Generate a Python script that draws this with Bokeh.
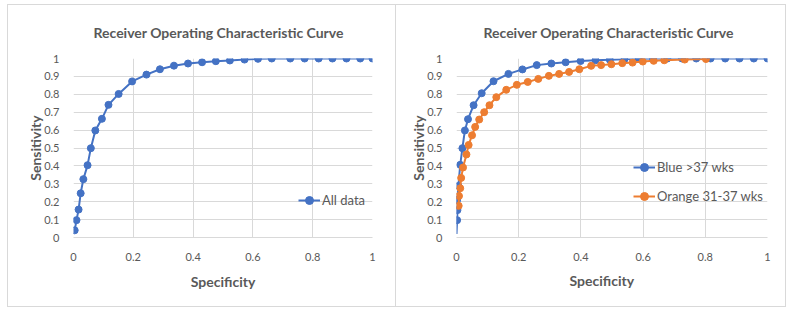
from bokeh.plotting import figure
from bokeh.layouts import row
from bokeh.models import FixedTicker, CustomJSTickFormatter, Legend, LegendItem, Range1d, Title
from bokeh.embed import file_html
from bokeh.resources import INLINE

# ---- data ----
all_spec = [0.004, 0.01, 0.017, 0.024, 0.033, 0.047, 0.058, 0.073, 0.095, 0.117, 0.151, 0.196,
            0.244, 0.289, 0.336, 0.383, 0.43, 0.476, 0.523, 0.572, 0.617, 0.663, 0.725, 0.773,
            0.82, 0.866, 0.913, 0.959, 1.0]
all_sens = [0.04, 0.097, 0.156, 0.247, 0.326, 0.404, 0.499, 0.598, 0.663, 0.741, 0.802, 0.872,
            0.91, 0.94, 0.96, 0.972, 0.979, 0.985, 0.989, 0.994, 0.998, 1.0, 1.0, 1.0,
            1.0, 1.0, 1.0, 1.0, 1.0]

blue_spec = [0.0, 0.002, 0.003, 0.002, 0.006, 0.012, 0.019, 0.027, 0.037, 0.055, 0.081, 0.119,
             0.167, 0.212, 0.258, 0.305, 0.351, 0.399, 0.447, 0.493, 0.540, 0.586, 0.632, 0.678,
             0.725, 0.771, 0.817, 0.864, 0.910, 0.956, 1.0]
blue_sens = [0.02, 0.097, 0.153, 0.21, 0.288, 0.406, 0.499, 0.598, 0.661, 0.739, 0.806, 0.873,
             0.914, 0.939, 0.963, 0.972, 0.979, 0.986, 0.990, 0.993, 0.996, 0.998, 1.0, 1.0,
             1.0, 1.0, 1.0, 1.0, 1.0, 1.0, 1.0]

orange_spec = [0.007, 0.008, 0.012, 0.015, 0.021, 0.032, 0.039, 0.050, 0.060, 0.073, 0.089, 0.106,
               0.128, 0.160, 0.194, 0.229, 0.263, 0.297, 0.330, 0.362, 0.395, 0.433, 0.465, 0.498,
               0.533, 0.566, 0.599, 0.634, 0.668, 0.734, 0.802]
orange_sens = [0.177, 0.232, 0.275, 0.333, 0.391, 0.464, 0.517, 0.571, 0.618, 0.659, 0.700, 0.739,
               0.784, 0.825, 0.853, 0.869, 0.886, 0.903, 0.914, 0.925, 0.940, 0.959, 0.963, 0.968,
               0.974, 0.977, 0.983, 0.987, 0.990, 0.994, 0.997]

x_ticks = [0, 0.2, 0.4, 0.6, 0.8, 1]
y_ticks = [0, 0.1, 0.2, 0.3, 0.4, 0.5, 0.6, 0.7, 0.8, 0.9, 1]

title_text = "Receiver Operating Characteristic Curve"
x_label = "Specificity"
y_label = "Sensitivity"

BLUE = "#4472C4"
ORANGE = "#ED7D31"
TXT = "#595959"
GRID = "#D9D9D9"
FONT = "Lato"

fmt = CustomJSTickFormatter(code="return (Math.round(tick*10)/10).toString();")


def make_fig(width, left, right, border_css, title_offset, xlabel_offset=None):
    p = figure(width=width, height=303, output_backend="svg", toolbar_location=None,
               x_range=Range1d(0, 1), y_range=Range1d(0, 1),
               min_border_left=left, min_border_right=right,
               min_border_top=53, min_border_bottom=71,
               styles=border_css)
    p.title.text = title_text
    p.title.align = "left"
    p.title.vertical_align = "middle"
    p.title.offset = title_offset
    p.title.text_font = FONT
    p.title.text_font_size = "14px"
    p.title.text_font_style = "bold"
    p.title.text_color = TXT
    p.title.standoff = 34
    p.outline_line_color = None
    for ax in (p.xaxis[0], p.yaxis[0]):
        ax.formatter = fmt
        ax.major_tick_line_color = None
        ax.minor_tick_line_color = None
        ax.major_label_text_font = FONT
        ax.major_label_text_font_size = "11px"
        ax.major_label_text_color = TXT
        ax.axis_label_text_font = FONT
        ax.axis_label_text_font_size = "14px"
        ax.axis_label_text_font_style = "bold"
        ax.axis_label_text_color = TXT
    p.xaxis.ticker = FixedTicker(ticks=x_ticks)
    p.yaxis.ticker = FixedTicker(ticks=y_ticks)
    p.yaxis.axis_label = y_label
    if xlabel_offset is None:
        p.xaxis.axis_label = x_label
    else:
        t = Title(text=x_label, align="left", offset=xlabel_offset, text_font=FONT,
                  text_font_size="14px", text_font_style="bold", text_color=TXT, standoff=12)
        p.add_layout(t, "below")
    p.xaxis.axis_line_color = GRID
    p.yaxis.axis_line_color = None
    p.xaxis.major_label_standoff = 9
    p.yaxis.major_label_standoff = 8
    p.xaxis.axis_label_standoff = 9
    p.yaxis.axis_label_standoff = -3
    p.xgrid.ticker = FixedTicker(ticks=x_ticks)
    p.ygrid.ticker = FixedTicker(ticks=y_ticks)
    p.xgrid.grid_line_color = GRID
    p.ygrid.grid_line_color = GRID
    return p


def series(p, xs, ys, color, skip_first=False):
    lr = p.line(xs, ys, line_color=color, line_width=2)
    sx = xs[1:] if skip_first else xs
    sy = ys[1:] if skip_first else ys
    sr = p.scatter(sx, sy, size=7, fill_color=color, line_color=color)
    return [lr, sr]


def style_legend(lg):
    lg.background_fill_alpha = 0
    lg.border_line_color = None
    lg.padding = 0
    lg.margin = 0
    lg.glyph_width = 22
    lg.label_standoff = 2
    lg.label_text_font = FONT
    lg.label_text_font_size = "13px"
    lg.label_text_color = TXT


p1 = make_fig(389, 65, 25, {"border": "1px solid #D9D9D9", "box-sizing": "border-box"}, 20)
r_all = series(p1, all_spec, all_sens, BLUE)
lg1 = Legend(items=[LegendItem(label="All data", renderers=r_all)], location=(225, 27))
style_legend(lg1)
p1.add_layout(lg1)

p2 = make_fig(390, 60, 19, {"border": "1px solid #D9D9D9", "border-left": "none", "box-sizing": "border-box"},
              27, xlabel_offset=113)
r_b = series(p2, blue_spec, blue_sens, BLUE, skip_first=True)
r_o = series(p2, orange_spec, orange_sens, ORANGE)
lg2 = Legend(items=[LegendItem(label="Blue >37 wks", renderers=r_b),
                    LegendItem(label="Orange 31-37 wks", renderers=r_o)],
             location=(177, 31), spacing=9)
style_legend(lg2)
p2.add_layout(lg2)

layout = row(p1, p2, margin=(4, 0, 0, 7))
open("out.html", "w").write(file_html(layout, INLINE))
